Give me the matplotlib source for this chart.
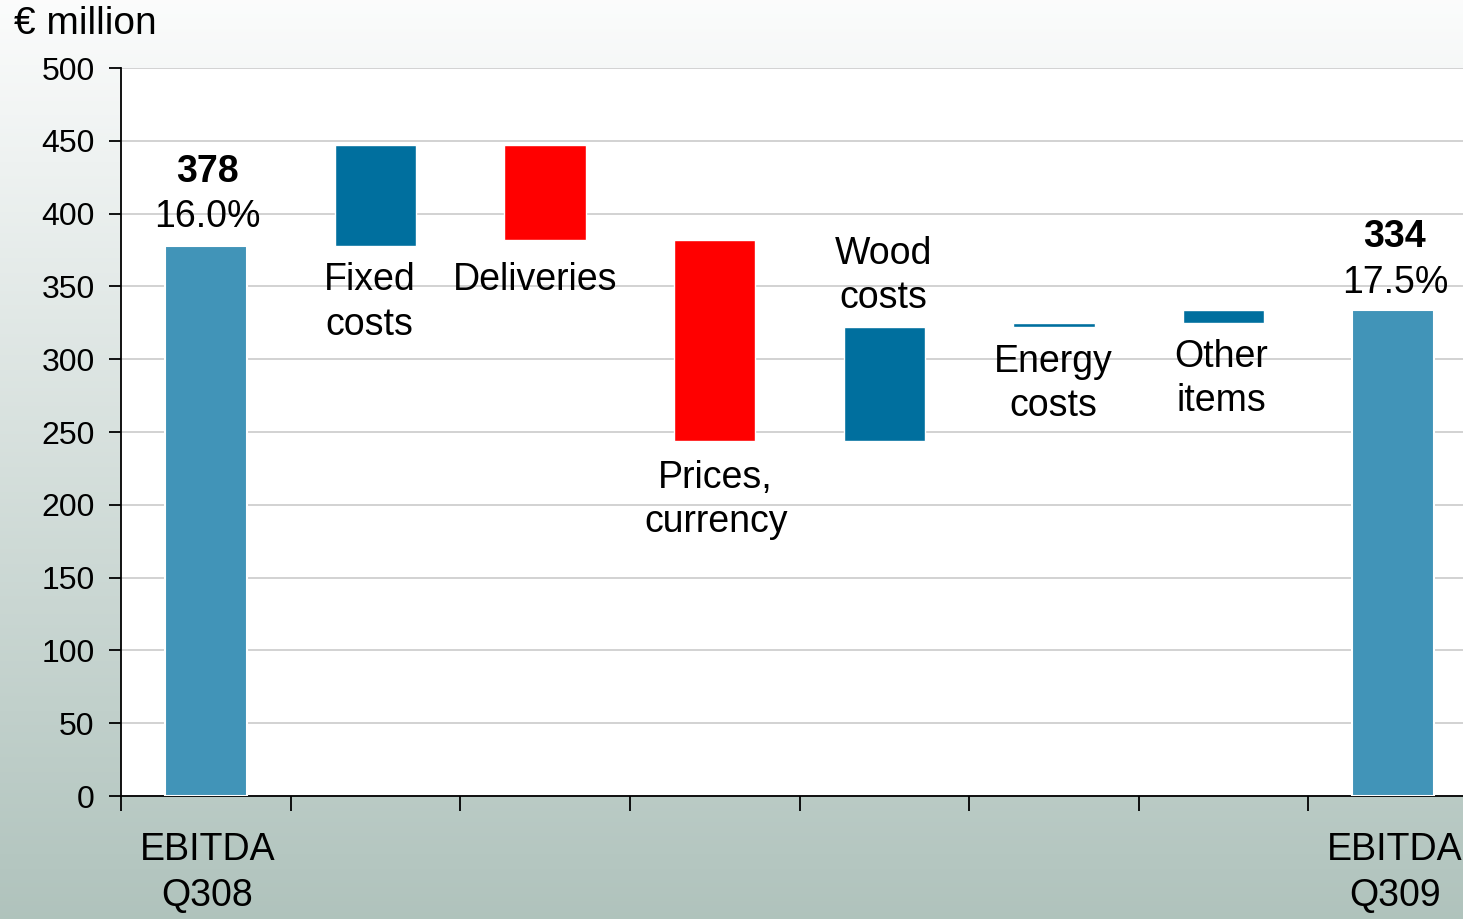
import numpy as np
import matplotlib.pyplot as plt

plt.rcParams['font.family'] = ['Liberation Sans', 'DejaVu Sans']

# EBITDA bridge, EUR million
start_value = 378
start_margin = '16.0%'
end_value = 334
end_margin = '17.5%'
steps = ['Fixed\ncosts', 'Deliveries', 'Prices,\ncurrency', 'Wood\ncosts',
         'Energy\ncosts', 'Other\nitems']
deltas = [69, -65, -138, 78, 3, 9]
end_labels = ['EBITDA\nQ308', 'EBITDA\nQ309']

total_color = '#4194b8'
up_color = '#006f9e'
down_color = '#ff0000'

fig = plt.figure(figsize=(14.63, 9.19), dpi=100)

# vertical background gradient
bg = fig.add_axes([0, 0, 1, 1], zorder=-10)
top = np.array([0.985, 0.988, 0.988])
bottom = np.array([0.690, 0.765, 0.740])
t = np.linspace(0, 1, 256)[:, None]
grad = top[None, :] * (1 - t) + bottom[None, :] * t
bg.imshow(grad[:, None, :], aspect='auto', extent=[0, 1, 0, 1])
bg.axis('off')

ax = fig.add_axes([121 / 1463, 123 / 919, 1357 / 1463, 728 / 919])
ax.set_facecolor('white')

n = len(steps) + 2
x = np.arange(n)
width = 0.48

# running totals for the floating bars
levels = np.concatenate([[start_value], start_value + np.cumsum(deltas)])
lows = np.minimum(levels[:-1], levels[1:])
heights = np.abs(deltas)
colors = [up_color if d > 0 else down_color for d in deltas]

ax.bar(x[0], start_value, width, color=total_color, edgecolor='white',
       linewidth=1.5, zorder=3)
ax.bar(x[-1], end_value, width, color=total_color, edgecolor='white',
       linewidth=1.5, zorder=3)
ax.bar(x[1:-1], heights, width, bottom=lows, color=colors,
       edgecolor='white', linewidth=1.0, zorder=3)

ax.set_xlim(-0.5, n - 0.5)
ax.set_ylim(0, 500)
ax.set_yticks(np.arange(0, 501, 50))
ax.set_xticks(np.arange(-0.5, n, 1.0))
ax.set_xticklabels([])
ax.tick_params(axis='y', labelsize=23, length=9, width=1.3, pad=10)
ax.tick_params(axis='x', length=11, width=1.3, direction='out')
ax.yaxis.grid(True, color='#d2d2d2', linewidth=1.4, zorder=0)
ax.set_axisbelow(True)
for s in ['top', 'right']:
    ax.spines[s].set_visible(False)
for s in ['left', 'bottom']:
    ax.spines[s].set_linewidth(1.3)

fs = 27
# start and end totals with margins
totals = [(x[0], start_value, start_margin, 29, 74),
          (x[-1], end_value, end_margin, 27, 73)]
for xi, val, marg, off_m, off_v in totals:
    ax.annotate(marg, (xi + 0.01, val), xytext=(0, off_m), textcoords='offset pixels',
                ha='center', va='center', fontsize=fs)
    ax.annotate(str(val), (xi + 0.01, val), xytext=(0, off_v), textcoords='offset pixels',
                ha='center', va='center', fontsize=fs, fontweight='bold')

# step labels, above rising bars that sit high, otherwise below
offsets = [(-6, -57), (-10, -40), (1, -59), (-1, 51), (-1, -57), (-2, -56)]
for i, (lab, (dx, dy)) in enumerate(zip(steps, offsets)):
    lo, hi = lows[i], lows[i] + heights[i]
    anchor = hi if dy > 0 else lo
    ax.annotate(lab, (x[i + 1], anchor), xytext=(dx, dy),
                textcoords='offset pixels', ha='center', va='center',
                fontsize=fs, linespacing=1.3)

for xi, lab in zip([x[0], x[-1]], end_labels):
    ax.annotate(lab, (xi + 0.01, 0), xytext=(0, -77), textcoords='offset pixels',
                ha='center', va='center', fontsize=fs, linespacing=1.33,
                annotation_clip=False)

fig.text(14 / 1463, 1 - 24 / 919, '€ million', fontsize=28, ha='left', va='center')

fig.savefig('out.png', dpi=100)
